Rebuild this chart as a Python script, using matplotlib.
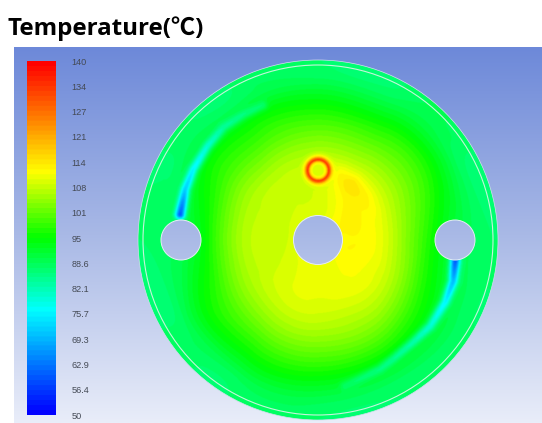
import numpy as np
import matplotlib
matplotlib.use("Agg")
import matplotlib.pyplot as plt
from matplotlib.colors import LinearSegmentedColormap
from matplotlib.patches import Circle
from matplotlib.tri import Triangulation, CubicTriInterpolator

tick_labels = ["140","134","127","121","114","108","101","95","88.6","82.1","75.7","69.3","62.9","56.4","50"]
tick_values = [140,133.6,127.1,120.7,114.3,107.9,101.4,95,88.6,82.1,75.7,69.3,62.9,56.4,50]

# temperature: radius (px from disc centre) by angle (deg, ccw from east)
angles = [0,30,60,90,120,150,180,210,240,270,300,330]
radii = [24,50,80,110,135,155,180,190]
temps_r24  = [112,112.5,111,109.5,109.5,109.5,109.5,110,110.5,111,111,112]
temps_r50  = [112,112.5,112,109,108.5,108,108,108.5,110,110.5,111,111.5]
temps_r80  = [106,107.5,108,107,106.5,106,105.5,106,107.5,108,108,107.5]
temps_r110 = [97,101,101,101,100,99,96,99,101,102,102,99]
temps_r135 = [91,95,95,95,95,94,90,94,95,95.5,95,93]
temps_r155 = [88.5,89.5,90,90,89.5,89,88.5,89,90,90.5,90,89.5]
temps_r180 = [87.5]*12
temps_r190 = [87.5]*12

# cold wakes behind the side holes
wake1_x = [180,185,193,207,223,243,262]
wake1_y = [215,190,170,147,128,115,106]
wake1_t = [60,72,76,80,84,86,87.5]
wake2_x = [455,453,445,430,413,393,380,345]
wake2_y = [262,282,303,327,343,360,370,387]
wake2_t = [60,70,76,80,83,85,86,88]
# warm plume downstream of the hot ring
plume_x = [328,340,350,360,366]
plume_y = [172,178,186,198,210]
plume_t = [111,113,115,113.5,112.5]
# hot ring profile
ring_r = [0,5,8,10.5,13,16,21]
ring_t = [109,109,115,134,122,112,107]

cx, cy, R = 318, 240, 180
fig = plt.figure(figsize=(5.42,4.23), dpi=100, facecolor="white")
W, H = 542, 423
ax = fig.add_axes([0,0,1,1])
ax.set_xlim(0,W); ax.set_ylim(H,0); ax.axis("off")

# background panel
bg = LinearSegmentedColormap.from_list("bg", ["#6d89d9","#a9b9e6","#e9edf9"])
ax.imshow(np.linspace(0,1,256)[:,None], cmap=bg, extent=(14,W,H,47), aspect="auto", zorder=0)
ax.set_xlim(0,W); ax.set_ylim(H,0)

cmap = LinearSegmentedColormap.from_list("ansys",
    [(0,"#0000ff"),((76.5-50)/90,"#00ffff"),((95-50)/90,"#00ff00"),
     ((112-50)/90,"#ffff00"),(1,"#ff0000")], N=72)

# base field
table = np.array([temps_r24,temps_r50,temps_r80,temps_r110,temps_r135,temps_r155,temps_r180,temps_r190],float)
aa, rr = np.meshgrid(np.radians(angles), radii)
px = cx + rr*np.cos(aa); py = cy - rr*np.sin(aa)
tri = Triangulation(px.ravel(), py.ravel())
interp = CubicTriInterpolator(tri, table.ravel(), kind="min_E")
xs = np.arange(cx-R-2, cx+R+2, 0.5); ys = np.arange(cy-R-2, cy+R+2, 0.5)
X, Y = np.meshgrid(xs, ys)
T = np.ma.filled(interp(X,Y), 87.5)

def blend(T, lx, ly, lt, width):
    s = np.r_[0, np.cumsum(np.hypot(np.diff(lx), np.diff(ly)))]
    t = np.linspace(0, s[-1], 160)
    qx, qy, qt = np.interp(t,s,lx), np.interp(t,s,ly), np.interp(t,s,lt)
    best = np.full(T.shape, 1e9); val = np.zeros(T.shape)
    for a,b,c in zip(qx,qy,qt):
        d = (X-a)**2+(Y-b)**2
        m = d<best
        best[m]=d[m]; val[m]=c
    w = np.exp(-best/width**2)
    return T + (val-T)*w

T = blend(T, plume_x, plume_y, plume_t, 11)
T = blend(T, wake1_x, wake1_y, wake1_t, 5)
T = blend(T, wake2_x, wake2_y, wake2_t, 5)
hx, hy = 318, 171
d = np.hypot(X-hx, Y-hy)
T = np.where(d<21, np.where(d<13, np.interp(d,ring_r,ring_t),
     T + (np.interp(d,ring_r,ring_t)-T)*np.clip((21-d)/8,0,1)*0.8), T)

im = ax.imshow(T, cmap=cmap, vmin=50, vmax=140, extent=(xs[0],xs[-1],ys[-1],ys[0]),
               aspect="auto", interpolation="bilinear", zorder=1)
disc = Circle((cx,cy), R, transform=ax.transData)
im.set_clip_path(disc)
ax.set_xlim(0,W); ax.set_ylim(H,0)

ax.add_patch(Circle((cx,cy), R, fill=False, ec="#d5dcf0", lw=0.5, zorder=3))
ax.add_patch(Circle((cx,cy), 175, fill=False, ec="#c4f5da", lw=0.8, zorder=3))
# holes show the panel behind them
for hxx, hr in [(318,24.5),(181,20),(455,20)]:
    c = Circle((hxx,240), hr, transform=ax.transData)
    hole = ax.imshow(np.linspace(0,1,256)[:,None], cmap=bg, extent=(14,W,H,47), aspect="auto", zorder=2)
    hole.set_clip_path(c)
    ax.add_patch(Circle((hxx,240), hr, fill=False, ec="#e6ecf5", lw=0.7, zorder=3))
ax.set_xlim(0,W); ax.set_ylim(H,0)

# colour bar
cax = fig.add_axes([27/W, 1-415/H, 29/W, 354/H])
cax.imshow(np.linspace(140,50,356)[:,None], cmap=cmap, vmin=50, vmax=140,
           extent=(0,1,50,140), aspect="auto")
cax.set_xticks([])
cax.yaxis.tick_right()
cax.set_yticks(tick_values, tick_labels, fontsize=6.6, color="#444a55", family="Liberation Sans")
cax.set_ylim(50,140)
cax.tick_params(axis="y", length=0, pad=11)
for s in cax.spines.values():
    s.set_visible(False)

fig.text(8/W, 1-35/H, "Temperature(℃)", fontsize=17.4, fontweight="bold",
         family=["Open Sans","Noto Sans CJK KR"], color="black", ha="left", va="baseline")
fig.savefig("out.png", dpi=100, facecolor="white")
